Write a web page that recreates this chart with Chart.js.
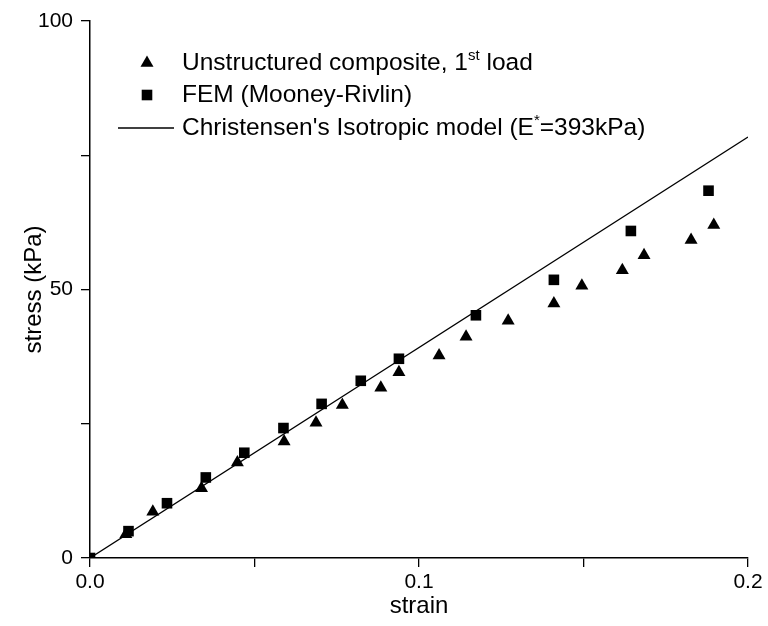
<!DOCTYPE html>
<html lang="en">
<head>
  <meta charset="UTF-8" />
  <title>stress vs strain</title>
  <script src="https://cdn.jsdelivr.net/npm/chart.js@4"></script>
  <style>
    body {
      margin: 0;
      padding: 0;
      background: #fff;
    }
    #wrap {
      width: 768px;
      height: 626px;
    }
  </style>
</head>
<body>
  <div id="wrap"><canvas id="chart"></canvas></div>

  <script>
    // experiment: unstructured composite, 1st load (triangles)
    const expStrain = [0.0109, 0.0191, 0.0339, 0.0448, 0.0590, 0.0687, 0.0767, 0.0884, 0.0939, 0.1061, 0.1143, 0.1271, 0.1410, 0.1495, 0.1618, 0.1684, 0.1827, 0.1896];
    const expStress = [4.4, 8.6, 13.0, 17.8, 21.7, 25.2, 28.5, 31.7, 34.6, 37.7, 41.2, 44.2, 47.4, 50.7, 53.6, 56.4, 59.2, 62.0];

    // FEM (Mooney-Rivlin) squares
    const femStrain = [0.0, 0.0117, 0.0234, 0.0352, 0.0469, 0.0588, 0.0704, 0.0823, 0.0939, 0.1173, 0.1410, 0.1644, 0.1880];
    const femStress = [0.0, 5.0, 10.2, 15.0, 19.6, 24.2, 28.7, 33.0, 37.1, 45.2, 51.8, 60.9, 68.4];

    // Christensen's isotropic model, straight line
    const modelStrain = [0, 0.2];
    const modelStress = [0, 78.4];

    const xTicks = [0, 0.05, 0.1, 0.15, 0.2];
    const yTicks = [0, 25, 50, 75, 100];

    const FONT = "'Liberation Sans', Arial, sans-serif";

    function toPoints(xs, ys) {
      return xs.map((x, i) => ({ x: x, y: ys[i] }));
    }

    // text with superscript parts
    function drawRich(ctx, x, y, parts, size) {
      parts.forEach(p => {
        if (p.sup) {
          ctx.font = Math.round(size * 0.6) + 'px ' + FONT;
          ctx.fillText(p.t, x, y - size * 0.42);
        } else {
          ctx.font = size + 'px ' + FONT;
          ctx.fillText(p.t, x, y);
        }
        x += ctx.measureText(p.t).width;
      });
    }

    const legendPlugin = {
      id: 'boxLegend',
      afterDraw(chart) {
        const ctx = chart.ctx;
        const size = 24.5;
        ctx.save();
        ctx.fillStyle = '#000';
        ctx.strokeStyle = '#000';
        ctx.textBaseline = 'alphabetic';

        // row 1: triangle
        Chart.helpers.drawPoint(ctx, { pointStyle: 'triangle', radius: 7.5, rotation: 0, borderWidth: 0 }, 147, 63);
        drawRich(ctx, 182, 70, [{ t: 'Unstructured composite, 1' }, { t: 'st', sup: true }, { t: ' load' }], size);

        // row 2: square
        Chart.helpers.drawPoint(ctx, { pointStyle: 'rect', radius: 7.5, rotation: 0, borderWidth: 0 }, 147, 95);
        drawRich(ctx, 182, 102, [{ t: 'FEM (Mooney-Rivlin)' }], size);

        // row 3: line
        ctx.lineWidth = 1.5;
        ctx.beginPath();
        ctx.moveTo(118, 128);
        ctx.lineTo(174, 128);
        ctx.stroke();
        drawRich(ctx, 182, 135, [{ t: "Christensen's Isotropic model (E" }, { t: '*', sup: true }, { t: '=393kPa)' }], size);

        ctx.restore();
      }
    };

    new Chart(document.getElementById('chart'), {
      type: 'scatter',
      data: {
        datasets: [
          {
            label: 'Unstructured composite, 1st load',
            data: toPoints(expStrain, expStress),
            pointStyle: 'triangle',
            pointRadius: 7.5,
            backgroundColor: '#000',
            borderColor: '#000',
            borderWidth: 0
          },
          {
            label: 'FEM (Mooney-Rivlin)',
            data: toPoints(femStrain, femStress),
            pointStyle: 'rect',
            pointRadius: 7.5,
            backgroundColor: '#000',
            borderColor: '#000',
            borderWidth: 0
          },
          {
            label: "Christensen's Isotropic model (E*=393kPa)",
            data: toPoints(modelStrain, modelStress),
            showLine: true,
            pointRadius: 0,
            borderColor: '#000',
            borderWidth: 1.3,
            fill: false
          }
        ]
      },
      options: {
        responsive: true,
        maintainAspectRatio: false,
        animation: false,
        layout: {
          padding: { top: 21, right: 20, left: 0, bottom: 0 }
        },
        plugins: {
          legend: { display: false },
          tooltip: { enabled: false }
        },
        scales: {
          x: {
            type: 'linear',
            min: 0,
            max: 0.2,
            afterBuildTicks: axis => { axis.ticks = xTicks.map(v => ({ value: v })); },
            afterFit: axis => { axis.height = 68; },
            ticks: {
              color: '#000',
              font: { family: FONT, size: 21 },
              padding: 3,
              maxRotation: 0,
              callback: v => (Math.round(v * 100) % 10 === 0 ? v.toFixed(1) : '')
            },
            grid: {
              drawOnChartArea: false,
              color: '#000',
              tickLength: 9,
              lineWidth: 1.3
            },
            border: { color: '#000', width: 1.5 },
            title: {
              display: true,
              text: 'strain',
              color: '#000',
              font: { family: FONT, size: 24 },
              padding: { top: 0, bottom: 5 }
            }
          },
          y: {
            min: 0,
            max: 100,
            afterBuildTicks: axis => { axis.ticks = yTicks.map(v => ({ value: v })); },
            afterFit: axis => { axis.width = 90; },
            ticks: {
              color: '#000',
              font: { family: FONT, size: 21 },
              padding: 8,
              callback: v => (v % 50 === 0 ? v : '')
            },
            grid: {
              drawOnChartArea: false,
              color: '#000',
              tickLength: 9,
              lineWidth: 1.3
            },
            border: { color: '#000', width: 1.5 },
            title: {
              display: true,
              text: 'stress (kPa)',
              color: '#000',
              font: { family: FONT, size: 24 },
              padding: { top: 20, bottom: 0 }
            }
          }
        }
      },
      plugins: [legendPlugin]
    });
  </script>
</body>
</html>
